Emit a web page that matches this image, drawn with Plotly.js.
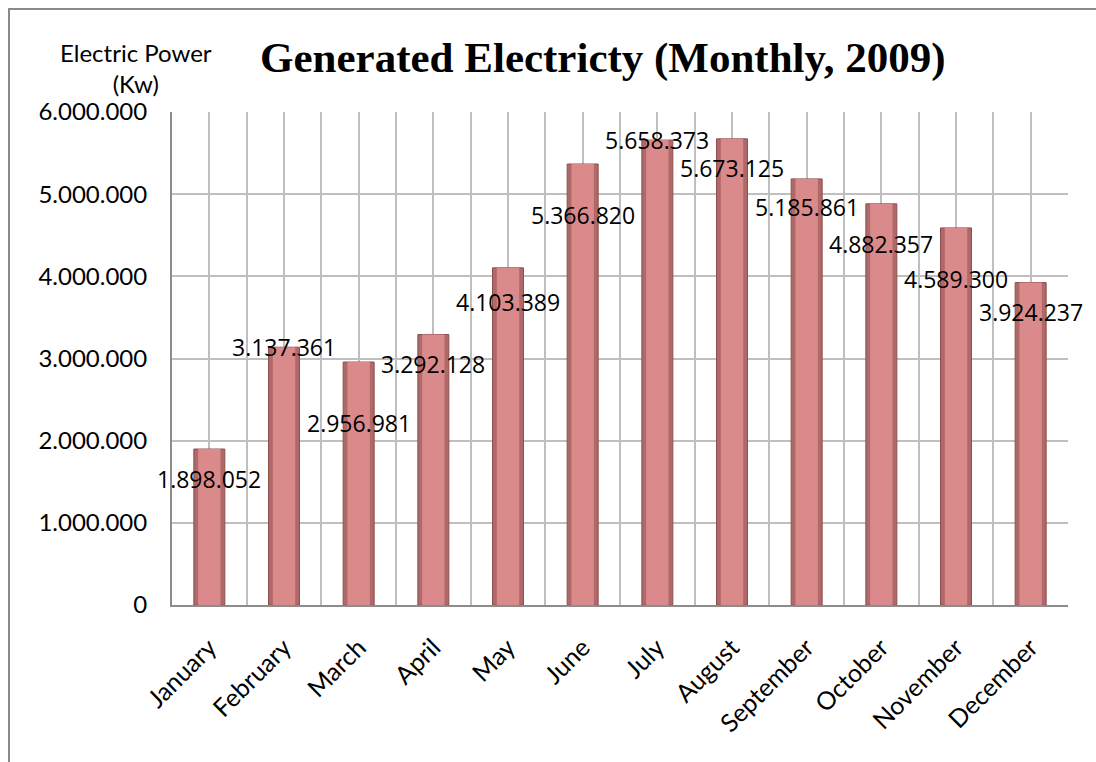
<!DOCTYPE html>
<html>
<head>
<meta charset="utf-8">
<script src="https://cdn.plot.ly/plotly-3.0.1.min.js"></script>
<style>
  html, body { margin: 0; padding: 0; background: #ffffff; overflow: hidden; width: 1096px; height: 762px; }
  #frame { position: absolute; left: 8px; top: 8px; width: 3000px; height: 3000px;
           border: 2px solid #8a8a8a; pointer-events: none; z-index: 5; }
  #chart { position: absolute; left: 0; top: 0; width: 1096px; height: 762px; }
</style>
</head>
<body>
<div id="chart"></div>
<div id="frame"></div>
<script>
// ---- data ----
const months = ["January", "February", "March", "April", "May", "June",
                "July", "August", "September", "October", "November", "December"];
const power = [1898052, 3137361, 2956981, 3292128, 4103389, 5366820,
               5658373, 5673125, 5185861, 4882357, 4589300, 3924237];
const yTicks = [0, 1000000, 2000000, 3000000, 4000000, 5000000, 6000000];

// ---- layout-only settings (label offsets in px, below bar top) ----
const labelDrop = [30, 0, 61, 29, 34, 51, 0, 29, 28, 40, 51, 29];

function fmt(n) {
  return String(n).replace(/\B(?=(\d{3})+(?!\d))/g, ".");
}

const idx = months.map((m, i) => i);

const barsBase = {
  type: "bar",
  x: idx,
  y: power,
  width: 0.415,
  marker: { color: "rgb(176,104,104)", line: { color: "rgb(140,80,80)", width: 1 } },
  hoverinfo: "skip"
};
const barsHighlight = {
  type: "bar",
  x: idx,
  y: power,
  width: 0.30,
  marker: { color: "rgb(218,138,138)", line: { width: 0 } },
  hoverinfo: "skip"
};

const annotations = power.map((v, i) => ({
  x: idx[i], y: v, xref: "x", yref: "y",
  text: fmt(v), showarrow: false,
  yshift: -labelDrop[i],
  font: { family: "Open Sans", size: 23, color: "#000" }
}));

annotations.push({
  xref: "paper", yref: "paper", x: -0.04, y: 1.09,
  xanchor: "center", yanchor: "middle",
  text: "Electric Power<br>(Kw)", showarrow: false,
  font: { family: "Lato", size: 24, color: "#000" }
});

const layout = {
  width: 1096, height: 762,
  margin: { l: 172, r: 28, t: 112, b: 157 },
  paper_bgcolor: "rgba(0,0,0,0)",
  plot_bgcolor: "#ffffff",
  separators: ",.",
  showlegend: false,
  barmode: "overlay",
  title: {
    text: "<b>Generated Electricty (Monthly, 2009)</b>",
    font: { family: "Liberation Serif", size: 43, color: "#000" },
    x: 0.55, xanchor: "center", xref: "container",
    y: 0.925, yanchor: "middle", yref: "container"
  },
  xaxis: {
    range: [-0.5, idx.length - 0.5],
    tickmode: "array", tickvals: idx, ticktext: months,
    tickangle: -45, ticks: "", ticklabelstandoff: 16,
    tickfont: { family: "Lato", size: 25, color: "#000" },
    showgrid: true, gridcolor: "#bfbfbf", gridwidth: 2,
    minor: { tick0: -0.5, dtick: 1, showgrid: true, gridcolor: "#bfbfbf", gridwidth: 2, ticks: "" },
    showline: true, linecolor: "#8c8c8c", linewidth: 2,
    zeroline: false, fixedrange: true
  },
  yaxis: {
    range: [0, 6000000],
    tickmode: "array", tickvals: yTicks,
    tickformat: ",d", ticks: "", ticklabelstandoff: 18,
    tickfont: { family: "Lato", size: 24, color: "#000" },
    showgrid: true, gridcolor: "#bfbfbf", gridwidth: 2,
    showline: true, linecolor: "#8c8c8c", linewidth: 2,
    zeroline: false, fixedrange: true
  },
  annotations: annotations
};

Plotly.newPlot("chart", [barsBase, barsHighlight], layout, { displayModeBar: false, staticPlot: true });
</script>
</body>
</html>
